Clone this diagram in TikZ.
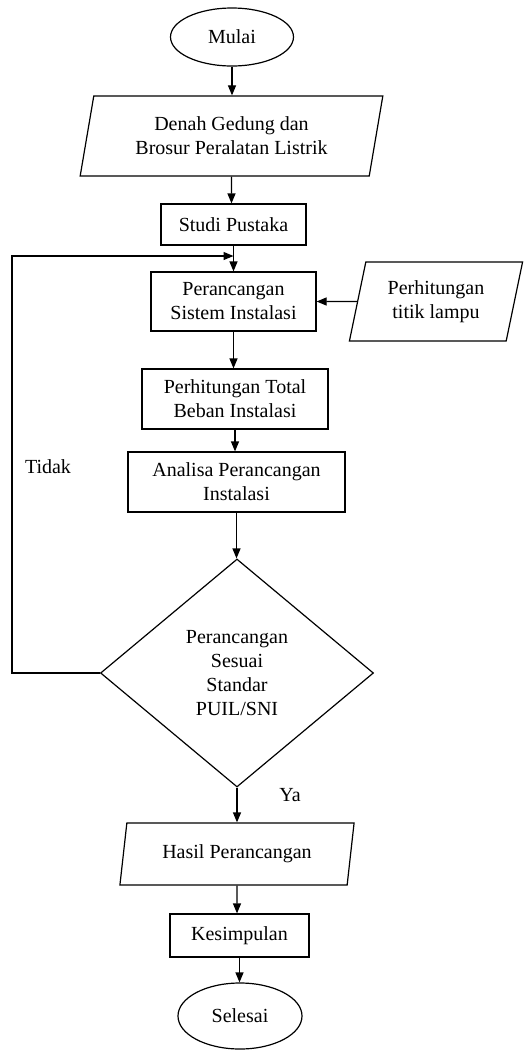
\documentclass[tikz,border=0pt]{standalone}
\usepackage{fontspec}
\setmainfont{Liberation Serif}
\usetikzlibrary{shapes.geometric,arrows.meta}
\begin{document}
\begin{tikzpicture}[x=0.5pt,y=-0.5pt, line width=0.6pt,
  font=\fontsize{10}{12}\selectfont,
  box/.style={rectangle, draw, align=center, inner sep=0pt},
  datain/.style={trapezium, draw, align=center, trapezium stretches=true, inner sep=0pt},
  term/.style={ellipse, draw, inner sep=0pt},
  arr/.style={-{Triangle[length=5pt,width=4pt]}}]
\useasboundingbox (0,0) rectangle (529,1051);
\node [term, minimum width=61.5pt, minimum height=29pt] (mulai) at (232,37) {Mulai};
\node [datain, trapezium left angle=76, trapezium right angle=104, minimum width=151.5pt, minimum height=40pt] (denah) at (231.5,136) {Denah Gedung dan\\Brosur Peralatan Listrik};
\node [box, minimum width=72.5pt, minimum height=20.5pt] (studi) at (233.5,224.5) {Studi Pustaka};
\node [box, minimum width=82.5pt, minimum height=29.5pt] (rancang) at (233.5,301.5) {Perancangan\\Sistem Instalasi};
\node [datain, trapezium left angle=75, trapezium right angle=105, minimum width=87pt, minimum height=39.5pt] (lampu) at (436,301.5) {Perhitungan\\titik lampu};
\node [box, minimum width=93pt, minimum height=30pt] (total) at (235,399) {Perhitungan Total\\Beban Instalasi};
\node [box, minimum width=108.5pt, minimum height=30pt] (analisa) at (236.5,482) {Analisa Perancangan\\Instalasi};
\node [diamond, draw, align=center, inner sep=0pt, minimum width=136.5pt, minimum height=114pt] (cek) at (237,673) {Perancangan\\Sesuai\\Standar\\PUIL/SNI};
\node [datain, trapezium left angle=75.5, trapezium right angle=104.5, minimum width=118pt, minimum height=31pt] (hasil) at (237,854) {Hasil Perancangan};
\node [box, minimum width=69.5pt, minimum height=21.5pt] (simpul) at (239.5,935.5) {Kesimpulan};
\node [term, minimum width=62pt, minimum height=33pt] (selesai) at (240,1016) {Selesai};
\node (tidak) at (48,467) {Tidak};
\node (ya) at (290,795) {Ya};
\draw[arr] (mulai) -- (mulai |- denah.north);
\draw[arr] (denah) -- (denah |- studi.north);
\draw[arr] (studi) -- (studi |- rancang.north);
\draw[arr] (lampu.west) -- (rancang.east);
\draw[arr] (rancang) -- (rancang |- total.north);
\draw[arr] (total) -- (total |- analisa.north);
\draw[arr] (analisa) -- (analisa |- cek.north);
\draw[arr] (cek) -- (cek |- hasil.north);  % jalur Ya
\draw[arr] (hasil) -- (hasil |- simpul.north);
\draw[arr] (simpul) -- (simpul |- selesai.north);
\coordinate (kiri) at (12,256);
\draw[arr] (cek.west) -| (kiri) -- (studi |- kiri);  % jalur Tidak
\end{tikzpicture}
\end{document}
